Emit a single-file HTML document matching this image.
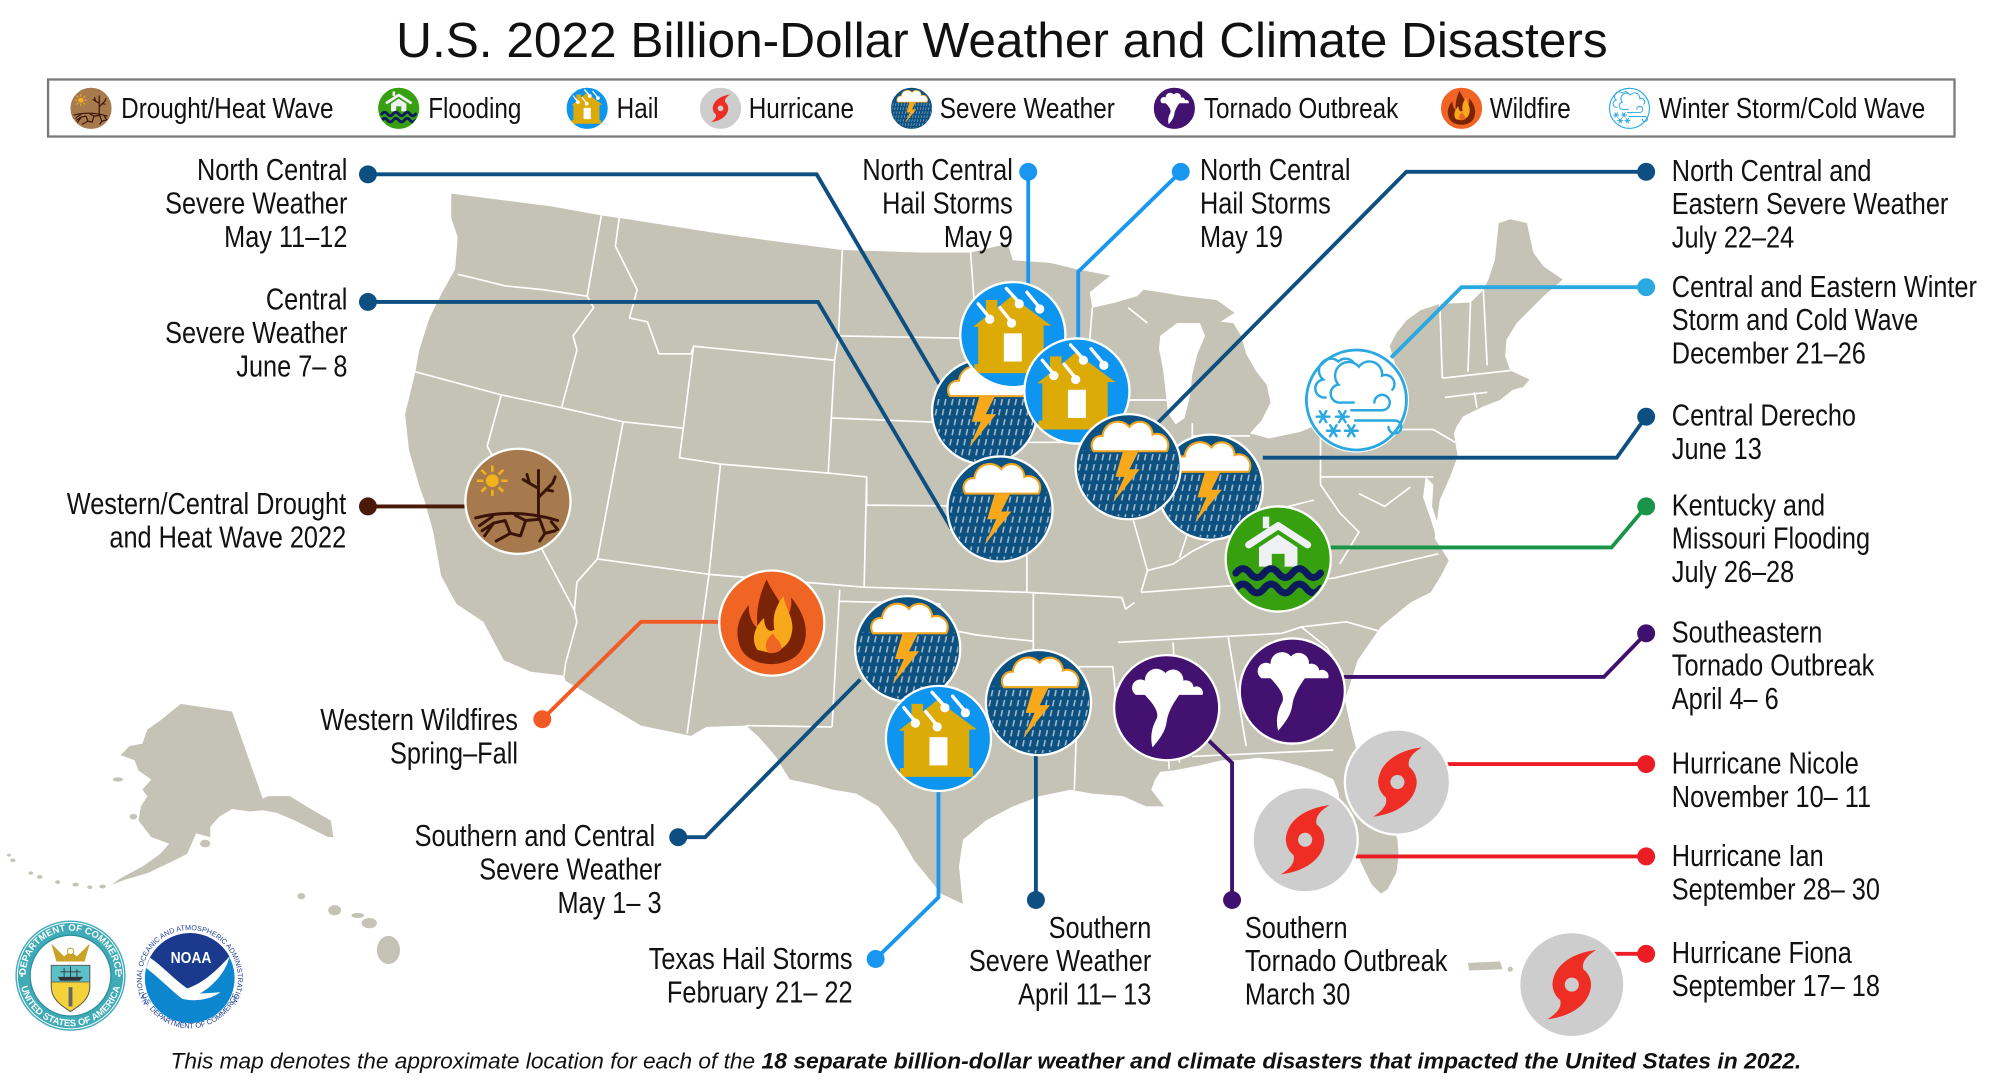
<!DOCTYPE html>
<html>
<head>
<meta charset="utf-8">
<title>U.S. 2022 Billion-Dollar Weather and Climate Disasters</title>
<style>
html,body{margin:0;padding:0;background:#fff;}
svg{display:block;}
text{font-family:"Liberation Sans",Arial,sans-serif;}
</style>
</head>
<body>
<svg width="2000" height="1088" viewBox="0 0 1560 848.64" preserveAspectRatio="none" xmlns="http://www.w3.org/2000/svg" xmlns:xlink="http://www.w3.org/1999/xlink">
<defs>
  <clipPath id="cc"><circle r="39.5"/></clipPath>

  <g id="sev">
    <circle r="41" fill="#0b5283"/>
    <g clip-path="url(#cc)"><path d="M-47,42l12,-55M-41.5,42l12,-55M-36,42l12,-55M-30.5,42l12,-55M-25,42l12,-55M-19.5,42l12,-55M-14,42l12,-55M-8.5,42l12,-55M-3,42l12,-55M2.5,42l12,-55M8,42l12,-55M13.5,42l12,-55M19,42l12,-55M24.5,42l12,-55M30,42l12,-55M35.5,42l12,-55" stroke="#a5b3bf" stroke-width="1.3" stroke-dasharray="5 3" fill="none"/></g>
    <path d="M-4,-12 L8,-12 L1,2 L9,2 L-12,28 L-3,8 L-10,8 Z" fill="#f7a81b"/>
    <path d="M-27,-12 A7.5,7.5 0 0 1 -20,-24 A12,12 0 0 1 1,-31 A10,10 0 0 1 19,-25 A9,9 0 0 1 30,-12 Z" fill="#fff" stroke="#f0a31c" stroke-width="1.6"/>
    <circle r="41" fill="none" stroke="#fff" stroke-width="1.8"/>
  </g>

  <g id="hail">
    <circle r="41" fill="#0d95f0"/>
    <path d="M-31,-6 L-21,-14 L-21,-27 L-12,-27 L-12,-21 L-1,-30 L30,-7 L24,-7 L24,23 L27,23 L27,30 L-30,30 L-30,23 L-27,23 L-27,-6 Z" fill="#dcab08"/>
    <rect x="-7" y="-1" width="14" height="22" fill="#fff"/>
    <path d="M-27,-24L-18,-13M-10,-21L-1,-10M-5,-36L5,-25M11,-33L21,-21" stroke="#fff" stroke-width="2.6" stroke-linecap="round"/>
    <g fill="#fff"><circle cx="-18" cy="-12" r="3.6"/><circle cx="-1" cy="-9" r="3.6"/><circle cx="5" cy="-24" r="3.6"/><circle cx="21" cy="-20" r="3.6"/></g>
    <circle r="41" fill="none" stroke="#fff" stroke-width="1.8"/>
  </g>

  <g id="torn">
    <circle r="41" fill="#431170"/>
    <path d="M-20,-13 C-10,-11 4,-11 12,-13 C6,-5 1,3 0,11 C-1,19 -6,25 -11,31 C-13,24 -12,16 -8,9 C-5,3 -12,-5 -20,-13 Z" fill="#fff"/>
    <path d="M-24,-10 A6.5,6.5 0 0 1 -17,-21 A9,9 0 0 1 -1,-27 A8,8 0 0 1 13,-21 A6,6 0 0 1 21,-16 A5,5 0 0 1 28,-10 Z" fill="#fff"/>
    <circle r="41" fill="none" stroke="#fff" stroke-width="1.8"/>
  </g>

  <g id="hurr">
    <circle r="41" fill="#cdcdcd"/>
    <g fill="#ee2e24">
      <circle r="15"/>
      <path d="M-15,1 C-15,-16 2,-25 19,-27 C9,-21 7,-15 10,-10 Z"/>
      <path d="M15,-1 C15,16 -2,25 -19,27 C-9,21 -7,15 -10,10 Z"/>
    </g>
    <circle r="5.5" fill="#cdcdcd"/>
    <circle r="41" fill="none" stroke="#fff" stroke-width="1.8"/>
  </g>

  <g id="flood">
    <circle r="41" fill="#37a00f"/>
    <path d="M-15,-9 L0,-19 L15,-9 L15,6 L-15,6 Z" fill="#eef0f4"/>
    <rect x="-12" y="-33" width="5" height="9" fill="#eef0f4"/>
    <path d="M-23,-11 L0,-26 L23,-11" fill="none" stroke="#eef0f4" stroke-width="5.5" stroke-linecap="round" stroke-linejoin="round"/>
    <rect x="-5" y="-4" width="10" height="10" fill="#37a00f"/>
    <g clip-path="url(#cc)" fill="none" stroke="#0d1b5e" stroke-width="5.5" stroke-linecap="round">
      <path d="M-33,11 q5.5,-7 11,0 t11,0 t11,0 t11,0 t11,0 t11,0"/>
      <path d="M-33,23 q5.5,-7 11,0 t11,0 t11,0 t11,0 t11,0 t11,0"/>
    </g>
    <circle r="41" fill="none" stroke="#fff" stroke-width="1.8"/>
  </g>

  <g id="fire">
    <circle r="41" fill="#f06523"/>
    <path d="M-26,14 C-29,2 -23,-8 -18,-14 C-18,-5 -15,1 -11,4 C-13,-10 -9,-24 -4,-34 C1,-22 11,-14 9,-2 C14,-6 16,-13 15,-20 C25,-8 30,6 24,19 C20,28 9,32 0,32 C-13,32 -24,26 -26,14 Z" fill="#7b2306"/>
    <path d="M-11,21 C-17,13 -13,2 -6,-4 C-6,4 -2,8 2,5 C0,-7 4,-14 9,-21 C11,-10 19,-2 15,10 C13,18 5,23 -2,23 Z" fill="#f8a81b"/>
    <path d="M-3,23 C-7,17 -3,11 1,8 C3,13 9,15 7,21 C5,23 0,24 -3,23 Z" fill="#f06523"/>
    <circle r="41" fill="none" stroke="#fff" stroke-width="1.8"/>
  </g>

  <g id="drought">
    <circle r="41" fill="#a77a4e"/>
    <circle cx="-20" cy="-16" r="5" fill="#f2b21a"/>
    <path stroke="#f2b21a" stroke-width="2" d="M-20,-28v5M-20,-9v5M-32,-16h5M-13,-16h5M-28.5,-24.5l3.5,3.5M-15,-11l3.5,3.5M-11.5,-24.5l-3.5,3.5M-25,-11l-3.5,3.5"/>
    <g stroke="#3a1407" stroke-width="2.3" fill="none" stroke-linecap="round">
      <path d="M16,12 V-24 M16,-3 L27,-14 M22,-9 L27,-8 M16,-10 L4,-17 M9,-14 L7,-21 M27,-14 L29,-19"/>
      <path d="M-33,13 Q-2,5 31,15"/>
      <path d="M-30,19 L-20,12 M-26,27 L-19,17 L-10,15 M-10,15 L-6,25 M-17,31 L-6,25 L2,27 M2,27 L6,15 M-2,11 L6,15 L17,14 M17,14 L21,25 L29,23 M21,25 L17,31 M26,16 L31,22 M-19,17 L-28,23"/>
    </g>
    <circle r="41" fill="none" stroke="#fff" stroke-width="1.8"/>
  </g>

  <g id="winter">
    <circle r="41" fill="#fff"/>
    <circle r="39" fill="none" stroke="#2aa8df" stroke-width="2.2"/>
    <g fill="none" stroke="#2aa8df" stroke-width="1.9" stroke-linecap="round">
      <path d="M-24,-2 A7,7 0 0 1 -26,-16 A9,9 0 0 1 -14,-30 A8,8 0 0 1 -2,-29"/>
      <path d="M-12,2 A7,7 0 0 1 -14,-12 A10,10 0 0 1 2,-26 A10,10 0 0 1 20,-19 A7,7 0 0 1 28,-8"/>
      <path d="M-12,2 H-2"/>
      <path d="M-4,8 H20 A6,6 0 1 0 14,2"/>
      <path d="M-1,16 H30 A5,5 0 1 1 25,21"/>
      <path d="M-31,13h10M-28.5,8.7l5,8.6M-23.5,8.7l-5,8.6"/>
      <path d="M-16,13h10M-13.5,8.7l5,8.6M-8.5,8.7l-5,8.6"/>
      <path d="M-23,24h10M-20.5,19.7l5,8.6M-15.5,19.7l-5,8.6"/>
      <path d="M-9,24h10M-6.5,19.7l5,8.6M-1.5,19.7l-5,8.6"/>
    </g>
  </g>

  <path id="docTop" d="M-35,0 A35,35 0 0 1 35,0"/>
  <path id="docBot" d="M-39.5,0 A39.5,39.5 0 0 0 39.5,0"/>
  <path id="noaaTop" d="M-31,21 A37.5,37.5 0 1 1 31,21"/>
  <path id="noaaBot" d="M-39,8 A40,40 0 0 0 39,8"/>
</defs>

<rect x="0" y="0" width="1560" height="848.64" fill="#fff"/>

<!-- Title -->
<text x="309" y="44.3" font-size="38" textLength="945" lengthAdjust="spacingAndGlyphs" fill="#111">U.S. 2022 Billion-Dollar Weather and Climate Disasters</text>

<!-- Legend -->
<rect x="37.5" y="62" width="1487" height="44.5" fill="#fff" stroke="#7a7a7a" stroke-width="1.8"/>
<use xlink:href="#drought" href="#drought" transform="translate(71,84.5) scale(.4)"/>
<use xlink:href="#flood" href="#flood" transform="translate(311,84.5) scale(.4)"/>
<use xlink:href="#hail" href="#hail" transform="translate(458,84.5) scale(.4)"/>
<use xlink:href="#hurr" href="#hurr" transform="translate(562,84.5) scale(.4)"/>
<use xlink:href="#sev" href="#sev" transform="translate(711,84.5) scale(.4)"/>
<use xlink:href="#torn" href="#torn" transform="translate(916,84.5) scale(.4)"/>
<use xlink:href="#fire" href="#fire" transform="translate(1140,84.5) scale(.4)"/>
<use xlink:href="#winter" href="#winter" transform="translate(1271,84.5) scale(.4)"/>
<g font-size="22.3" fill="#111">
  <text transform="translate(94.5,92) scale(.85,1)">Drought/Heat Wave</text>
  <text transform="translate(334,92) scale(.85,1)">Flooding</text>
  <text transform="translate(481,92) scale(.85,1)">Hail</text>
  <text transform="translate(584,92) scale(.85,1)">Hurricane</text>
  <text transform="translate(733,92) scale(.85,1)">Severe Weather</text>
  <text transform="translate(939,92) scale(.85,1)">Tornado Outbreak</text>
  <text transform="translate(1162,92) scale(.85,1)">Wildfire</text>
  <text transform="translate(1294,92) scale(.85,1)">Winter Storm/Cold Wave</text>
</g>

<!-- Map: contiguous US -->
<path fill="#c5c3b5" d="M352,151 L391,156 L430,161 L469,168 L483,170 L560,182 L610,189 L657,195 L720,197 L757,197 L786,190 L790,203 L819,205 L840,210 L866,215 L850,228 L852,240 L870,236 L887,231 L892,226 L905,228 L923,231 L949,234 L963,244 L952,251 L962,252 L968,262 L972,276 L980,290 L988,300 L991,314 L984,328 L975,338 L990,342 L1014,337 L1035,328 L1055,316 L1080,308 L1090,290 L1084,270 L1089,260 L1097,250 L1108,242 L1123,237 L1147,236 L1157,226 L1161,218 L1166,203 L1169,174 L1178,171 L1191,174 L1196,197 L1204,208 L1219,218 L1204,231 L1193,242 L1183,252 L1175,265 L1174,278 L1178,289 L1193,296 L1188,302 L1180,304 L1170,312 L1157,317 L1141,325 L1136,333 L1134,338 L1137,356 L1131,372 L1123,390 L1121,405 L1119,420 L1130,437 L1124,449 L1116,462 L1100,470 L1077,489 L1059,515 L1049,546 L1053,565 L1056,577 L1063,603 L1075,620 L1084,634 L1090,655 L1091,668 L1089,681 L1082,694 L1077,697 L1070,690 L1065,680 L1058,665 L1052,650 L1046,635 L1044,618 L1040,608 L1030,603 L1016,598 L998,593 L981,591 L965,593 L953,593 L936,597 L915,601 L905,602 L901,608 L898,616 L908,629 L894,629 L876,621 L852,619 L835,616 L811,621 L790,629 L769,640 L751,655 L748,676 L751,705 L734,697 L713,671 L699,647 L685,629 L668,619 L650,616 L635,612 L616,608 L605,590 L592,575 L582,566 L551,567 L539,574 L500,566 L441,531 L440,527 L414,524 L393,515 L377,485 L356,471 L344,449 L338,415 L331,390 L327,379 L319,351 L316,323 L324,290 L327,273 L335,248 L345,228 L355,210 L357,185 L352,170 Z"/>

<!-- State lines -->
<path fill="none" stroke="#fff" stroke-width="1.3" stroke-linejoin="round" d="M357,214 L370,217 L394,223 L424,226 L458,231
M469,168 L458,231 L463,240 L447,262 L450,273 L438,318
M324,290 L391,308 L438,318 L486,329 L533,334
M391,308 L380,348 L448,476 L450,485 L441,518 L440,527
M448,476 L450,454 L466,436 L486,329
M483,170 L480,192 L497,226 L491,248 L505,251 L514,276 L539,276 L541,270 L533,334 L530,357 L562,362 L646,369
M541,270 L651,281
M657,195 L654,262 L651,281 L646,369
M562,362 L553,448
M466,436 L553,448 L674,458
M676,372 L674,458
M646,369 L676,372 L676,394 L792,395
M553,448 L536,572
M655,460 L649,567
M582,566 L649,567
M674,458 L801,462
M655,469 L733,471 L735,490 L760,495 L785,498 L806,500
M654,262 L762,264
M649,326 L745,330 L750,338
M757,197 L762,264 L765,296 L842,296
M750,338 L760,360 L780,380 L792,395 L801,405 L801,462
M775,345 L858,345
M852,240 L850,265 L858,282 L866,296
M866,296 L872,315 L866,340 L858,345 L866,365 L880,392 L888,420 L895,445 L890,462
M870,312 L912,312
M880,240 L895,252
M930,330 L930,400 L925,420 L920,435
M895,445 L915,440 L930,430 L950,420 L965,415 L985,402 L1005,395 L1025,390
M960,342 L962,400
M930,340 L975,340
M1030,330 L1030,378
M1030,335 L1118,335
M1030,372 L1118,372
M1123,237 L1125,295
M1147,236 L1145,290
M1157,226 L1160,285
M1125,295 L1178,289
M1127,310 L1160,306
M1150,306 L1152,318
M1118,335 L1135,345
M1030,378 L1045,400 L1060,415 L1045,440
M1060,385 L1080,395 L1100,380
M890,462 L1040,451 L1122,432
M801,462 L875,466 L878,475 L885,470
M806,462 L806,520
M806,520 L868,520
M838,520 L840,560 L838,616
M868,520 L872,560 L890,570 L910,570 L912,600
M872,501 L1000,494
M915,501 L920,595
M958,497 L972,582
M930,590 L1040,585
M1000,494 L1015,489 L1035,505 L1050,530
M1015,489 L1050,485 L1075,492"/>

<!-- Lakes / bays -->
<path fill="#fff" d="M905,262 L918,252 L936,252 L940,262 L934,276 L930,292 L928,310 L924,326 L917,331 L911,322 L909,304 L907,287 L904,272 Z"/>
<path fill="#fff" d="M1112,372 L1110,388 L1116,405 L1120,418 L1122,410 L1117,395 L1118,378 Z"/>

<!-- Alaska -->
<g fill="#c5c3b5">
<path d="M141,549 L181,555 L205,623 L209,621 L226,621 L244,632 L258,640 L260,653 L256,653 L244,647 L230,640 L216,634 L205,632 L195,633 L181,631 L171,637 L164,645 L164,653 L153,650 L146,666 L132,673 L115,681 L98,686 L87,690 L94,685 L111,676 L125,666 L132,658 L118,653 L108,640 L110,629 L115,621 L111,616 L118,608 L108,601 L105,593 L94,589 L101,582 L111,580 L115,569 L125,562 Z"/>
<ellipse cx="80" cy="691.5" rx="2.5" ry="1.5"/>
<ellipse cx="70" cy="692" rx="2" ry="1.4"/>
<ellipse cx="59" cy="690" rx="2.5" ry="1.5"/>
<ellipse cx="45" cy="688" rx="2" ry="1.4"/>
<ellipse cx="31" cy="684" rx="2.2" ry="1.5"/>
<ellipse cx="24" cy="681" rx="1.8" ry="1.3"/>
<ellipse cx="10" cy="671" rx="2" ry="1.4"/>
<ellipse cx="7" cy="667" rx="1.6" ry="1.2"/>
<ellipse cx="160" cy="658" rx="4" ry="3"/>
<ellipse cx="92" cy="608" rx="4" ry="1.6"/>
<ellipse cx="104" cy="637" rx="3" ry="2.2"/>
<!-- Hawaii -->
<ellipse cx="235" cy="699" rx="3" ry="2.5"/>
<ellipse cx="261" cy="710" rx="5" ry="4"/>
<ellipse cx="279" cy="714" rx="5" ry="2"/>
<ellipse cx="288" cy="720" rx="6" ry="4"/>
<ellipse cx="303" cy="741" rx="9" ry="11"/>
<!-- Puerto Rico -->
<path d="M1145,751 L1170,750 L1172,756 L1146,757 Z"/>
<circle cx="1178" cy="756" r="2"/>
</g>

<!-- Leader lines -->
<g fill="none" stroke-width="3">
  <path d="M287,136 H637 L736,305" stroke="#0c4f80"/>
  <path d="M287,235.5 H638 L742,412" stroke="#0c4f80"/>
  <path d="M287,395 H368" stroke="#4a1a08"/>
  <path d="M560,485 H500 L423,561" stroke="#f15a24"/>
  <path d="M671,530 L550,653 H529" stroke="#0c4f80"/>
  <path d="M732,610 V700 L683,748" stroke="#1896f0"/>
  <path d="M808,580 V702" stroke="#0c4f80"/>
  <path d="M940,575 L961,595 V702" stroke="#40106f"/>
  <path d="M802,134 V225" stroke="#1896f0"/>
  <path d="M921,134 L841,212 V270" stroke="#1896f0"/>
  <path d="M1284,134 H1097 L895,338" stroke="#0c4f80"/>
  <path d="M1284,224 H1140 L1085,279" stroke="#2aa8df"/>
  <path d="M1284,325 L1261,357 H985" stroke="#0c4f80"/>
  <path d="M1284,395 L1257,427 H1030" stroke="#1a9448"/>
  <path d="M1284,494 L1251,528 H1040" stroke="#40106f"/>
  <path d="M1284,596 H1125" stroke="#ec1c24"/>
  <path d="M1284,668 H1050" stroke="#ec1c24"/>
  <path d="M1284,744 H1258" stroke="#ec1c24"/>
</g>
<g>
  <circle cx="287" cy="136" r="7" fill="#0c4f80"/>
  <circle cx="287" cy="235.5" r="7" fill="#0c4f80"/>
  <circle cx="287" cy="395" r="7" fill="#4a1a08"/>
  <circle cx="423" cy="561" r="7" fill="#f15a24"/>
  <circle cx="529" cy="653" r="7" fill="#0c4f80"/>
  <circle cx="683" cy="748" r="7" fill="#1896f0"/>
  <circle cx="808" cy="702" r="7" fill="#0c4f80"/>
  <circle cx="961" cy="702" r="7" fill="#40106f"/>
  <circle cx="802" cy="134" r="7" fill="#1896f0"/>
  <circle cx="921" cy="134" r="7" fill="#1896f0"/>
  <circle cx="1284" cy="134" r="7" fill="#0c4f80"/>
  <circle cx="1284" cy="224" r="7" fill="#2aa8df"/>
  <circle cx="1284" cy="325" r="7" fill="#0c4f80"/>
  <circle cx="1284" cy="395" r="7" fill="#1a9448"/>
  <circle cx="1284" cy="494" r="7" fill="#40106f"/>
  <circle cx="1284" cy="596" r="7" fill="#ec1c24"/>
  <circle cx="1284" cy="668" r="7" fill="#ec1c24"/>
  <circle cx="1284" cy="744" r="7" fill="#ec1c24"/>
</g>

<!-- Map icons -->
<use xlink:href="#drought" href="#drought" transform="translate(404,391)"/>
<use xlink:href="#fire" href="#fire" transform="translate(602,486)"/>
<use xlink:href="#sev" href="#sev" transform="translate(708,506)"/>
<use xlink:href="#sev" href="#sev" transform="translate(810,548)"/>
<use xlink:href="#hail" href="#hail" transform="translate(732,576)"/>
<use xlink:href="#torn" href="#torn" transform="translate(910,552)"/>
<use xlink:href="#torn" href="#torn" transform="translate(1008,539)"/>
<use xlink:href="#hurr" href="#hurr" transform="translate(1090,610)"/>
<use xlink:href="#hurr" href="#hurr" transform="translate(1018,655)"/>
<use xlink:href="#hurr" href="#hurr" transform="translate(1226,768)"/>
<use xlink:href="#sev" href="#sev" transform="translate(768,321)"/>
<use xlink:href="#hail" href="#hail" transform="translate(790,261)"/>
<use xlink:href="#sev" href="#sev" transform="translate(780,397)"/>
<use xlink:href="#hail" href="#hail" transform="translate(840,305)"/>
<use xlink:href="#sev" href="#sev" transform="translate(944,380)"/>
<use xlink:href="#sev" href="#sev" transform="translate(880,364)"/>
<use xlink:href="#flood" href="#flood" transform="translate(997,436)"/>
<use xlink:href="#winter" href="#winter" transform="translate(1058,312)"/>

<!-- Labels -->
<g font-size="23.5" fill="#111">
  <text transform="translate(271,140.5) scale(.84,1)" text-anchor="end"><tspan x="0" y="0">North Central</tspan><tspan x="0" y="26">Severe Weather</tspan><tspan x="0" y="52">May 11–12</tspan></text>
  <text transform="translate(271,241.5) scale(.84,1)" text-anchor="end"><tspan x="0" y="0">Central</tspan><tspan x="0" y="26">Severe Weather</tspan><tspan x="0" y="52">June 7– 8</tspan></text>
  <text transform="translate(270,401) scale(.84,1)" text-anchor="end"><tspan x="0" y="0">Western/Central Drought</tspan><tspan x="0" y="26">and Heat Wave 2022</tspan></text>
  <text transform="translate(404,569.5) scale(.84,1)" text-anchor="end"><tspan x="0" y="0">Western Wildfires</tspan><tspan x="0" y="26">Spring–Fall</tspan></text>
  <text transform="translate(511,660) scale(.84,1)" text-anchor="end">Southern and Central</text>
  <text transform="translate(516,686) scale(.84,1)" text-anchor="end"><tspan x="0" y="0">Severe Weather</tspan><tspan x="0" y="26">May 1– 3</tspan></text>
  <text transform="translate(665,756) scale(.84,1)" text-anchor="end"><tspan x="0" y="0">Texas Hail Storms</tspan><tspan x="0" y="26">February 21– 22</tspan></text>
  <text transform="translate(898,731.5) scale(.84,1)" text-anchor="end"><tspan x="0" y="0">Southern</tspan><tspan x="0" y="26">Severe Weather</tspan><tspan x="0" y="52">April 11– 13</tspan></text>
  <text transform="translate(971,731.5) scale(.84,1)"><tspan x="0" y="0">Southern</tspan><tspan x="0" y="26">Tornado Outbreak</tspan><tspan x="0" y="52">March 30</tspan></text>
  <text transform="translate(790,140.5) scale(.84,1)" text-anchor="end"><tspan x="0" y="0">North Central</tspan><tspan x="0" y="26">Hail Storms</tspan><tspan x="0" y="52">May 9</tspan></text>
  <text transform="translate(936,140.5) scale(.84,1)"><tspan x="0" y="0">North Central</tspan><tspan x="0" y="26">Hail Storms</tspan><tspan x="0" y="52">May 19</tspan></text>
  <text transform="translate(1304,141) scale(.84,1)"><tspan x="0" y="0">North Central and</tspan><tspan x="0" y="26">Eastern Severe Weather</tspan><tspan x="0" y="52">July 22–24</tspan></text>
  <text transform="translate(1304,231.5) scale(.84,1)"><tspan x="0" y="0">Central and Eastern Winter</tspan><tspan x="0" y="26">Storm and Cold Wave</tspan><tspan x="0" y="52">December 21–26</tspan></text>
  <text transform="translate(1304,332) scale(.84,1)"><tspan x="0" y="0">Central Derecho</tspan><tspan x="0" y="26">June 13</tspan></text>
  <text transform="translate(1304,402) scale(.84,1)"><tspan x="0" y="0">Kentucky and</tspan><tspan x="0" y="26">Missouri Flooding</tspan><tspan x="0" y="52">July 26–28</tspan></text>
  <text transform="translate(1304,501) scale(.84,1)"><tspan x="0" y="0">Southeastern</tspan><tspan x="0" y="26">Tornado Outbreak</tspan><tspan x="0" y="52">April 4– 6</tspan></text>
  <text transform="translate(1304,603.5) scale(.84,1)"><tspan x="0" y="0">Hurricane Nicole</tspan><tspan x="0" y="26">November 10– 11</tspan></text>
  <text transform="translate(1304,675.5) scale(.84,1)"><tspan x="0" y="0">Hurricane Ian</tspan><tspan x="0" y="26">September 28– 30</tspan></text>
  <text transform="translate(1304,751) scale(.84,1)"><tspan x="0" y="0">Hurricane Fiona</tspan><tspan x="0" y="26">September 17– 18</tspan></text>
</g>

<!-- Department of Commerce seal -->
<g transform="translate(55,761)">
  <circle r="43" fill="#3fabb7"/>
  <circle r="41.5" fill="none" stroke="#fff" stroke-width="0.8"/>
  <circle r="31.5" fill="#fff" stroke="#2b8f9c" stroke-width="1"/>
  <text font-size="7.4" font-weight="bold" fill="#fff" text-anchor="middle"><textPath xlink:href="#docTop" href="#docTop" startOffset="50%">DEPARTMENT OF COMMERCE</textPath></text>
  <text font-size="7.4" font-weight="bold" fill="#fff" text-anchor="middle"><textPath xlink:href="#docBot" href="#docBot" startOffset="50%">UNITED STATES OF AMERICA</textPath></text>
  <circle cx="-38" cy="0" r="1" fill="#fff"/>
  <circle cx="38" cy="0" r="1" fill="#fff"/>
  <path d="M-15,-8 H15 V9 C15,19 6,24 0,28 C-6,24 -15,19 -15,9 Z" fill="#f3d23a" stroke="#555" stroke-width=".8"/>
  <path d="M-15,-8 H15 V5 H-15 Z" fill="#5cc0c9" stroke="#555" stroke-width=".6"/>
  <path d="M-10,1 L10,1 L7,4 L-8,4 Z" fill="#333"/>
  <path d="M-5,1 V-6 M0,1 V-7 M5,1 V-5 M-8,-3 H8" stroke="#333" stroke-width=".7"/>
  <rect x="-1.5" y="9" width="3" height="15" fill="#666"/>
  <path d="M-15,-25 L-5,-15 L0,-19 L5,-15 L15,-25 L11,-11 L-11,-11 Z" fill="#c9a227"/>
  <circle cx="0" cy="-19" r="2.5" fill="#fff" stroke="#c9a227" stroke-width="0.8"/>
</g>

<!-- NOAA logo -->
<g transform="translate(148,763)">
  <circle r="35" fill="#0d86d0"/>
  <path d="M-31,-16 A35,35 0 0 1 31,-17 C23,-8 11,4 -2,8 C-12,1 -22,-10 -31,-16 Z" fill="#1b3a8e"/>
  <path d="M-31,-16 C-22,-10 -12,1 -2,8 C11,4 23,-8 31,-17 C28,-4 18,6 8,12 L24,11 C14,18 2,18 -6,16 C-16,8 -26,-2 -34,-8 Z" fill="#fff"/>
  <text transform="translate(1,-12) scale(.9,1)" font-size="12" font-weight="bold" fill="#fff" text-anchor="middle">NOAA</text>
  <text font-size="5.6" fill="#1f3f94" text-anchor="middle"><textPath xlink:href="#noaaTop" href="#noaaTop" startOffset="50%">NATIONAL OCEANIC AND ATMOSPHERIC ADMINISTRATION</textPath></text>
  <text font-size="5.8" fill="#1f3f94" text-anchor="middle"><textPath xlink:href="#noaaBot" href="#noaaBot" startOffset="50%">U.S. DEPARTMENT OF COMMERCE</textPath></text>
</g>

<!-- Caption -->
<text x="133" y="833.5" font-size="17" font-style="italic" fill="#111" textLength="456" lengthAdjust="spacingAndGlyphs">This map denotes the approximate location for each of the</text>
<text x="594" y="833.5" font-size="17" font-style="italic" font-weight="bold" fill="#111" textLength="811" lengthAdjust="spacingAndGlyphs">18 separate billion-dollar weather and climate disasters that impacted the United States in 2022.</text>
</svg>
</body>
</html>
